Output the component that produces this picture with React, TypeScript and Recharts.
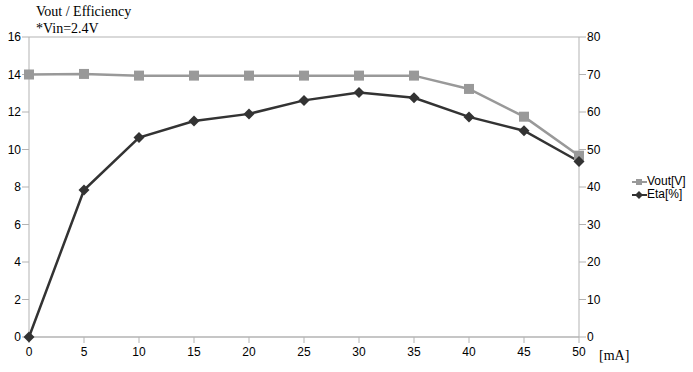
import { LineChart, Line, XAxis, YAxis, CartesianGrid } from "recharts";

// load current in mA
const current = [0, 5, 10, 15, 20, 25, 30, 35, 40, 45, 50];
// output voltage [V]
const vout = [14.0, 14.03, 13.94, 13.94, 13.94, 13.94, 13.94, 13.94, 13.23, 11.75, 9.67];
// efficiency [%]
const eta = [0, 39.2, 53.2, 57.6, 59.5, 63.1, 65.2, 63.8, 58.7, 55.0, 46.8];

const xTicks = [0, 5, 10, 15, 20, 25, 30, 35, 40, 45, 50];
const leftTicks = [0, 2, 4, 6, 8, 10, 12, 14, 16];
const rightTicks = [0, 10, 20, 30, 40, 50, 60, 70, 80];

const data = current.map((c, i) => ({ c, vout: vout[i], eta: eta[i] }));

const GRAY = "#999999";
const DARK = "#333333";
const AXIS = "#b3b3b3";
const tickFont = { fontFamily: "Liberation Sans, Arial, sans-serif", fontSize: 12, fill: "#000" };

const Square = (props: any) => {
  const { cx, cy } = props;
  if (cx == null || cy == null) return null;
  return <rect x={cx - 5} y={cy - 5} width={10} height={10} fill={GRAY} />;
};

const Diamond = (props: any) => {
  const { cx, cy } = props;
  if (cx == null || cy == null) return null;
  const r = 5.5;
  return (
    <polygon
      points={`${cx},${cy - r} ${cx + r},${cy} ${cx},${cy + r} ${cx - r},${cy}`}
      fill={DARK}
    />
  );
};

const LegendBox = () => (
  <div
    style={{
      position: "absolute",
      left: 632,
      top: 175,
      fontFamily: "Liberation Sans, Arial, sans-serif",
      fontSize: 12,
      color: "#000",
      lineHeight: "13px",
    }}
  >
    <div style={{ display: "flex", alignItems: "center" }}>
      <svg width={15} height={10}>
        <line x1={0} y1={5} x2={15} y2={5} stroke={GRAY} strokeWidth={2} />
        <rect x={4} y={2} width={6} height={6} fill={GRAY} />
      </svg>
      <span>Vout[V]</span>
    </div>
    <div style={{ display: "flex", alignItems: "center" }}>
      <svg width={15} height={10}>
        <line x1={0} y1={5} x2={15} y2={5} stroke={DARK} strokeWidth={2} />
        <polygon points="7,1 11,5 7,9 3,5" fill={DARK} />
      </svg>
      <span>Eta[%]</span>
    </div>
  </div>
);

export default function App() {
  return (
    <div style={{ position: "absolute", left: 0, top: 0, width: 693, height: 372, background: "#fff" }}>
      <div
        style={{
          position: "absolute",
          left: 36,
          top: 3,
          fontFamily: "Liberation Serif, Times New Roman, serif",
          fontSize: 14,
          lineHeight: "17px",
          color: "#000",
        }}
      >
        <div>Vout / Efficiency</div>
        <div>*Vin=2.4V</div>
      </div>
      <div
        style={{
          position: "absolute",
          left: 599,
          top: 348,
          fontFamily: "Liberation Serif, Times New Roman, serif",
          fontSize: 14,
          color: "#000",
        }}
      >
        [mA]
      </div>
      <LegendBox />
      <LineChart width={693} height={372} data={data} margin={{ top: 37, right: 84, bottom: 15, left: 0 }}>
        <CartesianGrid vertical={false} stroke={AXIS} strokeWidth={1} />
        <XAxis
          dataKey="c"
          type="number"
          domain={[0, 50]}
          ticks={xTicks}
          height={20}
          stroke={AXIS}
          tickSize={6}
          tickMargin={4}
          tick={tickFont}
        />
        <YAxis
          yAxisId="left"
          domain={[0, 16]}
          ticks={leftTicks}
          width={29}
          stroke={AXIS}
          tickSize={7}
          tickMargin={1}
          tick={tickFont}
        />
        <YAxis
          yAxisId="right"
          orientation="right"
          domain={[0, 80]}
          ticks={rightTicks}
          width={30}
          stroke={AXIS}
          tickSize={7}
          tickMargin={1}
          tick={tickFont}
        />
        <Line
          yAxisId="left"
          dataKey="vout"
          name="Vout[V]"
          stroke={GRAY}
          strokeWidth={2.5}
          dot={<Square />}
          activeDot={false}
          isAnimationActive={false}
        />
        <Line
          yAxisId="right"
          dataKey="eta"
          name="Eta[%]"
          stroke={DARK}
          strokeWidth={2.5}
          dot={<Diamond />}
          activeDot={false}
          isAnimationActive={false}
        />
      </LineChart>
    </div>
  );
}
